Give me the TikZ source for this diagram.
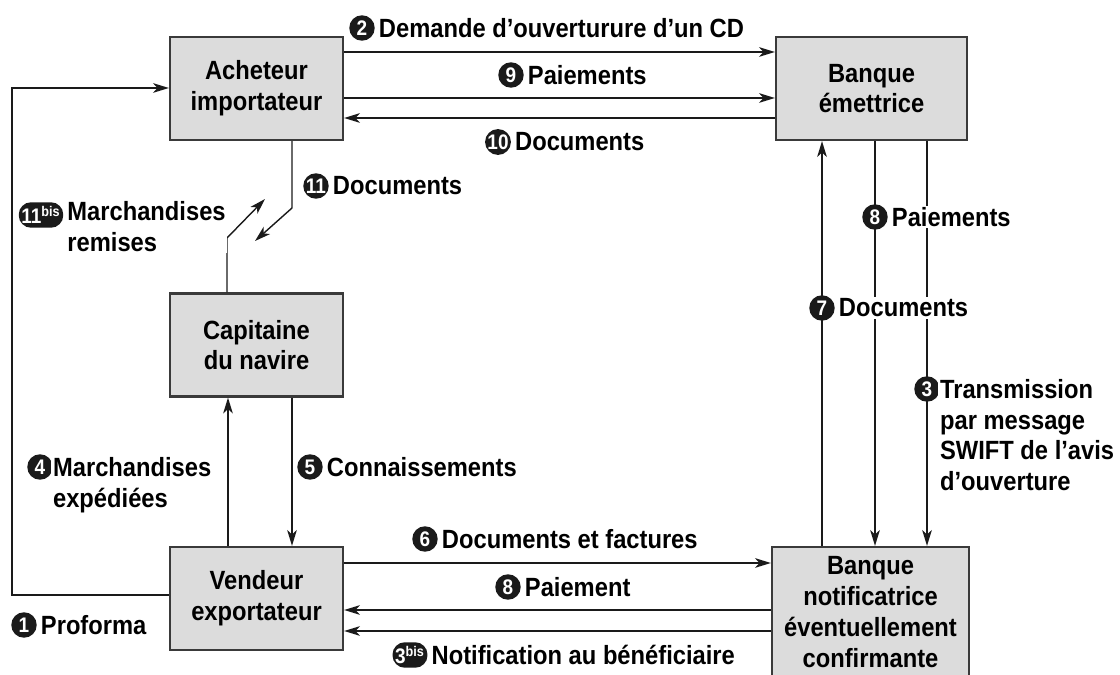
\documentclass[tikz,border=0pt]{standalone}
\usepackage{fontspec}
\setmainfont{Liberation Sans}[FakeStretch=0.9]
\usetikzlibrary{arrows.meta,positioning}
\definecolor{boxfill}{HTML}{DCDCDC}
\definecolor{boxline}{HTML}{3A3A3A}
\definecolor{ink}{HTML}{1A1A1A}
\newcommand\labfont{\fontsize{15}{17.5}\selectfont\bfseries}
\tikzset{
  actor/.style={draw=boxline, fill=boxfill, line width=1.3pt, align=center, font=\labfont, minimum height=2.06cm},
  flow/.style={draw=ink, line width=0.8pt, -{Stealth[length=9pt,width=5.5pt,inset=2.5pt]}},
  num/.style={circle, fill=ink, text=white, inner sep=0pt, minimum size=14.5pt, font=\fontsize{12}{12}\selectfont\bfseries},
  numbis/.style={rectangle, rounded corners=7pt, fill=ink, text=white, inner sep=1.5pt, minimum height=14.5pt, font=\fontsize{12}{12}\selectfont\bfseries},
  lab/.style={font=\labfont, inner sep=1pt, fill=white, align=left},
}

\begin{document}
\begin{tikzpicture}[x=0.02cm, y=-0.02cm]
  \useasboundingbox (0,0) rectangle (1120,675);

  % acteurs
  \node[actor, minimum width=3.46cm] (ach) at (256.5,88.5) {Acheteur\\importateur};
  \node[actor, minimum width=3.82cm] (eme) at (871.5,88.5) {Banque\\émettrice};
  \node[actor, minimum width=3.46cm] (cap) at (256.5,345) {Capitaine\\du navire};
  \node[actor, minimum width=3.46cm] (ven) at (256.5,598.5) {Vendeur\\exportateur};
  \node[actor, minimum width=3.94cm, minimum height=2.6cm] (notif) at (870.5,612) {Banque\\notificatrice\\éventuellement\\confirmante};

  % coudes
  \coordinate (loopB) at (12,595);
  \coordinate (loopT) at (12,88);
  \coordinate (docBend) at (292,208);
  \coordinate (docTip) at (255,241);
  \coordinate (marBend) at (227,238);
  \coordinate (marTip) at (265,199);

  % flux du haut
  \draw[flow] (ach.east |- 0,52) -- (eme.west |- 0,52);
  \draw[flow] (ach.east |- 0,98) -- (eme.west |- 0,98);
  \draw[flow] (eme.west |- 0,118) -- (ach.east |- 0,118);

  % proforma
  \draw[flow] (ven.west |- loopB) -- (loopB) -- (loopT) -- (ach.west |- loopT);

  % documents / marchandises remises
  \draw[flow] (ach.south -| docBend) -- (docBend) -- (docTip);
  \draw[flow] (cap.north -| marBend) -- (marBend) -- (marTip);

  % capitaine <-> vendeur
  \draw[flow] (ven.north -| 228,0) -- (cap.south -| 228,0);
  \draw[flow] (cap.south -| 292,0) -- (ven.north -| 292,0);

  % flux du bas
  \draw[flow] (ven.east |- 0,563) -- (notif.west |- 0,563);
  \draw[flow] (notif.west |- 0,610) -- (ven.east |- 0,610);
  \draw[flow] (notif.west |- 0,631) -- (ven.east |- 0,631);

  % banques
  \draw[flow] (notif.north -| 822,0) -- (eme.south -| 822,0);
  \draw[flow] (eme.south -| 875,0) -- (notif.north -| 875,0);
  \draw[flow] (eme.south -| 927,0) -- (notif.north -| 927,0);

  % etiquettes
  \node[num] (n2) at (362,28) {2};
  \node[lab, right=1pt of n2] {Demande d’ouverturure d’un CD};
  \node[num] (n9) at (511,75) {9};
  \node[lab, right=1pt of n9] {Paiements};
  \node[num] (n10) at (498,142) {10};
  \node[lab, right=1pt of n10] {Documents};
  \node[num] (n11) at (316,186) {11};
  \node[lab, right=1pt of n11] {Documents};
  \node[numbis] (n11b) at (41,215) {11\textsuperscript{bis}};
  \node[lab, anchor=north west] at ([xshift=1pt,yshift=1.5pt]n11b.north east) {Marchandises\\remises};
  \node[num] (n8a) at (875,217) {8};
  \node[lab, right=1pt of n8a] {Paiements};
  \node[num] (n7) at (822,308) {7};
  \node[lab, right=1pt of n7] {Documents};
  \node[num] (n3) at (927,389) {3};
  \node[lab, anchor=north west] at ([xshift=1pt,yshift=1.5pt]n3.north east) {Transmission\\par message\\SWIFT de l’avis\\d’ouverture};
  \node[num] (n4) at (40,467) {4};
  \node[lab, anchor=north west] at ([xshift=1pt,yshift=1.5pt]n4.north east) {Marchandises\\expédiées};
  \node[num] (n5) at (310,467) {5};
  \node[lab, right=1pt of n5] {Connaissements};
  \node[num] (n6) at (425,539) {6};
  \node[lab, right=1pt of n6] {Documents et factures};
  \node[num] (n8b) at (508,587) {8};
  \node[lab, right=1pt of n8b] {Paiement};
  \node[numbis] (n3b) at (410,655) {3\textsuperscript{bis}};
  \node[lab, right=1pt of n3b] {Notification au bénéficiaire};
  \node[num] (n1) at (24,625) {1};
  \node[lab, right=1pt of n1] {Proforma};
\end{tikzpicture}
\end{document}
